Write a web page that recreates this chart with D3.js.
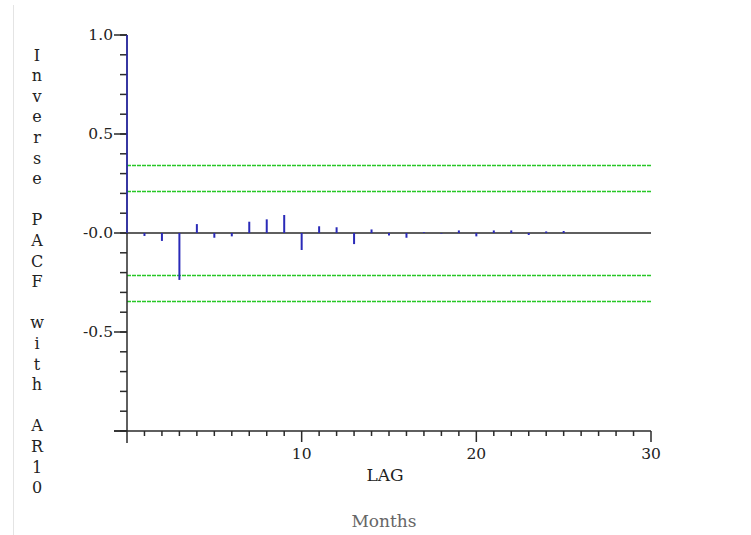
<!DOCTYPE html>
<html>
<head>
<meta charset="utf-8">
<script src="https://cdn.jsdelivr.net/npm/d3@7"></script>
<style>
  html, body { margin: 0; padding: 0; background: #fff; }
  svg { display: block; }
</style>
</head>
<body>
<svg id="chart" width="751" height="535"></svg>
<script>
// ---- data ----
const lags = [0,1,2,3,4,5,6,7,8,9,10,11,12,13,14,15,16,17,18,19,20,21,22,23,24,25];
const ipacf = [1.0,-0.015,-0.04,-0.237,0.045,-0.024,-0.017,0.057,0.069,0.091,-0.086,0.034,0.029,-0.056,0.018,-0.012,-0.024,0.004,-0.003,0.013,-0.017,0.013,0.013,-0.01,0.008,0.01];
const bandInner = [0.21, -0.21];
const bandOuter = [0.345, -0.345];
const yMajorTicks = [1.0, 0.5, 0.0, -0.5];
const yTickLabels = ["1.0", "0.5", "-0.0", "-0.5"];
const xMajorTicks = [10, 20, 30];
const yTitle = "Inverse PACF with AR10";
const xTitle = "LAG";
const footnote = "Months";

// ---- drawing ----
const FONT = "'DejaVu Serif', serif";
const svg = d3.select("#chart");
const x = d3.scaleLinear().domain([0, 30]).range([127, 651]);
const y = d3.scaleLinear().domain([-1, 1]).range([431, 35]);
const axisColor = "#2a2a2a";
const textColor = "#222";

// left border line
svg.append("line").attr("x1", 13.5).attr("x2", 13.5).attr("y1", 5).attr("y2", 535)
  .attr("stroke", "#e4e4e4").attr("stroke-width", 1);

// confidence bands
[...bandInner, ...bandOuter].forEach(v => {
  svg.append("line")
    .attr("x1", x(0)).attr("x2", x(30))
    .attr("y1", Math.round(y(v)) + 0.5).attr("y2", Math.round(y(v)) + 0.5)
    .style("stroke", "rgb(40,200,40)").style("stroke-width", "1.4px")
    .style("stroke-dasharray", "4 1");
});

// zero line
svg.append("line").attr("x1", x(0)).attr("x2", x(30))
  .attr("y1", y(0)).attr("y2", y(0))
  .attr("stroke", axisColor).attr("stroke-width", 1.5);

// y axis line
svg.append("line").attr("x1", x(0)).attr("x2", x(0))
  .attr("y1", y(1)).attr("y2", y(-1) + 12)
  .attr("stroke", axisColor).attr("stroke-width", 1.5);

// y ticks (minor every 0.1, major at 0.5)
const yMinor = d3.range(-10, 11).map(i => i / 10);
svg.selectAll(".ymin").data(yMinor).enter().append("line")
  .attr("x1", x(0) - 7).attr("x2", x(0))
  .attr("y1", d => y(d)).attr("y2", d => y(d))
  .attr("stroke", axisColor).attr("stroke-width", 1.5);
svg.selectAll(".ymaj").data(yMajorTicks.concat([-1])).enter().append("line")
  .attr("x1", x(0) - 13).attr("x2", x(0))
  .attr("y1", d => y(d)).attr("y2", d => y(d))
  .attr("stroke", axisColor).attr("stroke-width", 1.5);
svg.selectAll(".ylab").data(yMajorTicks).enter().append("text")
  .attr("x", x(0) - 14).attr("y", d => y(d))
  .attr("text-anchor", "end").attr("dominant-baseline", "central")
  .attr("font-family", FONT).attr("fill", textColor)
  .attr("font-size", 15.5)
  .text((d, i) => yTickLabels[i]);

// x axis
svg.append("line").attr("x1", x(0) - 13).attr("x2", x(30))
  .attr("y1", y(-1)).attr("y2", y(-1))
  .attr("stroke", axisColor).attr("stroke-width", 1.5);
const xMinor = d3.range(1, 31);
svg.selectAll(".xt").data(xMinor).enter().append("line")
  .attr("x1", d => x(d)).attr("x2", d => x(d))
  .attr("y1", y(-1)).attr("y2", d => y(-1) + (xMajorTicks.includes(d) ? 11 : 5))
  .attr("stroke", axisColor).attr("stroke-width", 1.5);
svg.selectAll(".xlab").data(xMajorTicks).enter().append("text")
  .attr("x", d => x(d)).attr("y", 454)
  .attr("text-anchor", "middle").attr("dominant-baseline", "central")
  .attr("font-family", FONT).attr("fill", textColor)
  .attr("font-size", 15.5)
  .text(d => d);

// bars
svg.selectAll(".bar").data(lags).enter().append("line")
  .attr("x1", d => x(d)).attr("x2", d => x(d))
  .attr("y1", y(0)).attr("y2", (d, i) => y(ipacf[i]))
  .attr("stroke", "#2a2ab8").attr("stroke-width", (d) => d === 0 ? 1.5 : 2);

// titles
svg.append("text").attr("x", 385).attr("y", 475)
  .attr("text-anchor", "middle").attr("dominant-baseline", "central")
  .attr("font-family", FONT).attr("fill", textColor)
  .attr("font-size", 17).text(xTitle);
svg.append("text").attr("x", 384).attr("y", 521)
  .attr("text-anchor", "middle").attr("dominant-baseline", "central")
  .attr("font-family", FONT).attr("fill", "#666")
  .attr("font-size", 17).text(footnote);

const chars = Array.from(yTitle);
svg.selectAll(".ytitle").data(chars).enter().append("text")
  .attr("x", 37).attr("y", (d, i) => 55 + i * 20.6)
  .attr("text-anchor", "middle").attr("dominant-baseline", "central")
  .attr("font-family", FONT).attr("fill", textColor)
  .attr("font-size", 16)
  .text(d => d);
</script>
</body>
</html>
